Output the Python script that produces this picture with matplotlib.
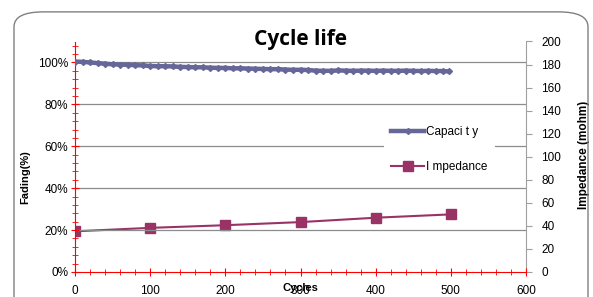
import matplotlib
matplotlib.use('agg')

import matplotlib.pyplot as plt
from matplotlib.patches import FancyBboxPatch
from matplotlib.ticker import MultipleLocator, FuncFormatter

# capacity retention (%) read every 10 cycles
cap_cycles = [0, 10, 20, 30, 40, 50, 60, 70, 80, 90,
              100, 110, 120, 130, 140, 150, 160, 170, 180, 190,
              200, 210, 220, 230, 240, 250, 260, 270, 280, 290,
              300, 310, 320, 330, 340, 350, 360, 370, 380, 390,
              400, 410, 420, 430, 440, 450, 460, 470, 480, 490, 497]
capacity = [100.4, 100.3, 100.0, 99.7, 99.4, 99.1, 99.0, 98.9, 98.7, 98.6,
            98.3, 98.2, 98.2, 98.1, 97.9, 97.8, 97.7, 97.7, 97.5, 97.4,
            97.4, 97.2, 97.2, 97.1, 97.0, 96.9, 96.8, 96.8, 96.6, 96.5,
            96.5, 96.4, 96.1, 96.0, 96.0, 96.2, 96.1, 96.0, 96.1, 96.1,
            96.0, 96.1, 96.0, 96.0, 96.1, 96.0, 95.9, 96.0, 95.9, 95.9, 95.7]

imp_cycles = [0, 100, 200, 300, 400, 500]
impedance = [35.3, 38.3, 40.6, 43.3, 47.1, 50.0]

plt.rcParams['font.family'] = ['Liberation Sans', 'DejaVu Sans']

fig = plt.figure(figsize=(5.93, 2.97), dpi=100)

# rounded chart frame
frame = FancyBboxPatch((14 / 593, -0.2), 574 / 593, 1.16, transform=fig.transFigure,
                       boxstyle='round,pad=0,rounding_size=0.05', fc='none',
                       ec='#808080', lw=1.0)
fig.patches.append(frame)

ax = fig.add_axes([75 / 593, 1 - 272 / 297, 451 / 593, 230.5 / 297])
ax2 = ax.twinx()

ax.set_xlim(0, 600)
ax.set_ylim(0, 110)
ax2.set_ylim(0, 200)

ax.set_yticks([0, 20, 40, 60, 80, 100])
ax.yaxis.set_minor_locator(MultipleLocator(4))
ax.yaxis.set_major_formatter(FuncFormatter(lambda v, p: f'{int(v)}%'))
ax.xaxis.set_major_locator(MultipleLocator(100))
ax.xaxis.set_minor_locator(MultipleLocator(20))
ax2.yaxis.set_major_locator(MultipleLocator(20))

for y in [20, 40, 60, 80, 100]:
    ax.axhline(y, color='#8c8c8c', lw=0.9, zorder=0)

ax.spines['top'].set_visible(False)
ax2.spines['top'].set_visible(False)
ax.spines['right'].set_visible(False)
ax.spines['left'].set_color('red')
ax.spines['bottom'].set_color('red')
ax2.spines['left'].set_visible(False)
ax2.spines['bottom'].set_visible(False)
ax2.spines['right'].set_color('#a0a0a0')

ax.tick_params(axis='both', which='major', direction='inout', length=6, color='red',
               labelsize=8.5, pad=2)
ax.tick_params(axis='both', which='minor', direction='inout', length=4, color='red')
ax.tick_params(axis='x', pad=6)
ax2.tick_params(axis='y', direction='out', length=4, color='#a0a0a0', labelsize=8.5, pad=7)

l1, = ax.plot(cap_cycles, capacity, color='#666699', lw=3.2, marker='D', ms=3,
              label='Capaci t y', zorder=3)
l2, = ax2.plot(imp_cycles, impedance, color='#993366', lw=1.5, marker='s', ms=7,
               label='I mpedance', zorder=3)

ax.set_zorder(ax2.get_zorder() + 1)
ax.patch.set_visible(False)

leg = ax.legend(handles=[l1, l2], loc='upper left', bbox_to_anchor=(0.685, 0.665),
                frameon=True, fontsize=8.5, handlelength=2.8, labelspacing=2.0,
                borderpad=0.6, handletextpad=0.2, borderaxespad=0)
leg.get_frame().set_edgecolor('none')
leg.get_frame().set_facecolor('white')
leg.get_frame().set_alpha(1)
leg.get_frame().set_boxstyle('square', pad=0)

fig.text(300 / 593, 1 - 39 / 297, 'Cycle life', fontsize=15, fontweight='bold',
         ha='center', va='center', fontfamily='Open Sans')
ax.set_ylabel('Fading(%)', fontsize=8, fontweight='bold')
ax.yaxis.set_label_coords(-0.1, 0.41)
ax.set_xlabel('Cycles', fontsize=8, fontweight='bold', labelpad=-10)
ax2.set_ylabel('Impedance (mohm)', fontsize=8.5, fontweight='bold', rotation=90)
ax2.yaxis.set_label_coords(1.116, 0.51)

fig.savefig('out.png', dpi=100)
